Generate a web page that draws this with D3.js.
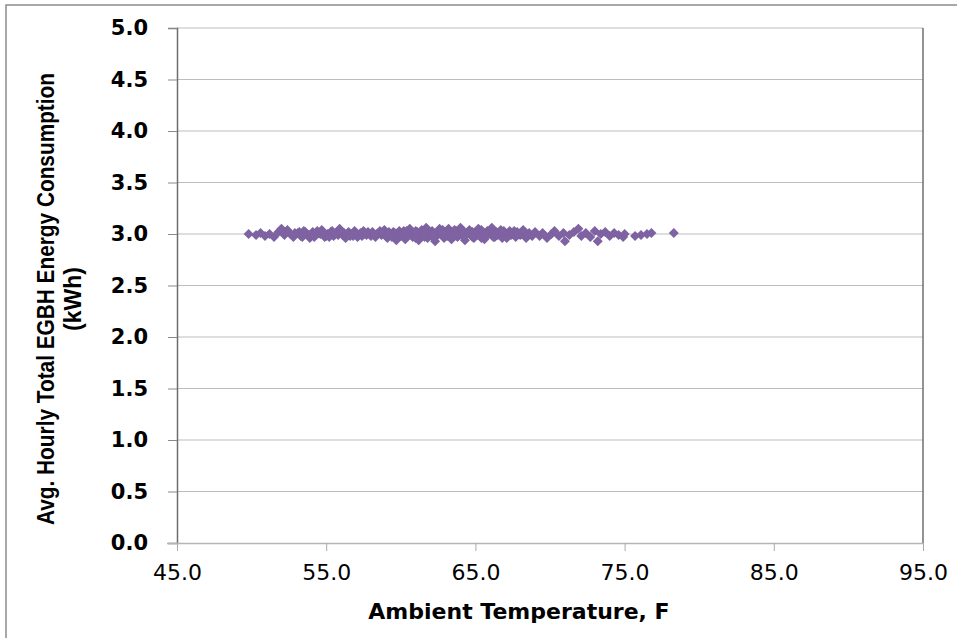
<!DOCTYPE html>
<html lang="en">
<head>
  <meta charset="UTF-8">
  <title>EGBH Energy vs Ambient Temperature</title>
  <script src="https://d3js.org/d3.v7.min.js"></script>
  <style>
    body { margin: 0; background: #fff; }
  </style>
</head>
<body>
  <script>
    // 1. Data
    const temps = [
      49.8, 50.3, 50.6, 50.9, 51.2, 51.5, 51.8, 52.0, 52.2, 52.4, 52.6, 52.8,
      53.1, 53.3, 53.5, 53.7, 53.9, 54.1, 54.3, 54.5, 54.7, 54.9, 55.1, 55.3, 55.5, 55.7, 55.9, 56.1, 56.3, 56.5, 56.7, 56.9,
      53.2, 53.8, 54.4, 55.0, 55.6, 56.2, 56.8,
      52.3, 52.9, 53.4, 53.6, 54.0, 54.2, 54.6, 54.8, 55.2, 55.4, 55.8, 56.0, 56.4, 56.6,
      57.1, 57.3, 57.5, 57.7, 57.9, 58.1, 58.3, 58.5, 58.7, 58.9, 59.1, 59.3, 59.5, 59.7, 59.9,
      57.2, 57.8, 58.4, 59.0, 59.6,
      57.0, 57.4, 57.6, 58.0, 58.2, 58.6, 58.8, 59.2, 59.4, 59.8,
      60.0, 60.2, 60.3, 60.5, 60.6, 60.8, 60.9, 61.1, 61.2, 61.4, 61.5, 61.7, 61.8, 62.0, 62.1, 62.3, 62.4, 62.6, 62.7, 62.9, 63.0,
      60.1, 60.7, 61.3, 61.9, 62.5, 62.8, 63.1,
      60.4, 60.4, 61.0, 61.0, 61.6, 61.6, 62.2, 62.2, 62.9,
      63.2, 63.4, 63.5, 63.7, 63.8, 64.0, 64.1, 64.3, 64.4, 64.6, 64.7, 64.9, 65.0, 65.2, 65.3, 65.5, 65.6, 65.8, 65.9,
      63.3, 63.9, 64.5, 65.1, 65.7,
      63.6, 63.6, 64.2, 64.2, 64.8, 64.8, 65.4, 65.4,
      66.1, 66.2, 66.4, 66.5, 66.7, 66.8, 67.0, 67.2, 67.3, 67.5, 67.7, 67.8, 68.0, 68.2, 68.4, 68.6, 68.8,
      66.0, 66.6, 67.4, 68.1,
      66.3, 66.3, 66.9, 67.1, 67.6, 67.9, 68.3, 68.5,
      69.0, 69.3, 69.5, 69.8, 70.1, 70.3, 70.6, 70.9, 71.0, 71.3, 71.6, 71.9, 72.1, 72.4, 72.7, 73.0, 73.2, 73.4, 73.7, 74.0, 74.3, 74.6, 74.9, 75.0,
      75.7, 76.1, 76.5, 76.8, 78.3
    ];
    const kwh = [
      3.00, 2.99, 3.01, 2.98, 3.00, 2.97, 3.02, 3.05, 2.99, 3.04, 3.00, 2.97,
      3.01, 2.98, 3.03, 3.00, 2.96, 3.02, 2.99, 3.01, 3.04, 2.97, 3.00, 3.02, 2.98, 3.01, 3.05, 2.99, 2.96, 3.02, 3.00, 3.03,
      3.02, 2.99, 3.03, 2.98, 3.00, 3.01, 2.98,
      3.02, 3.01, 2.97, 3.02, 3.00, 2.97, 3.00, 3.02, 2.97, 3.03, 2.99, 3.02, 3.00, 2.98,
      2.97, 3.01, 3.03, 2.99, 3.00, 3.02, 2.97, 3.01, 2.99, 3.04, 2.96, 3.00, 3.02, 2.94, 3.03,
      2.99, 3.02, 3.00, 2.98, 3.01,
      3.01, 2.98, 3.00, 2.98, 3.00, 3.03, 3.01, 3.02, 2.97, 2.99,
      2.98, 3.03, 2.95, 3.01, 3.05, 2.97, 3.00, 3.02, 2.94, 3.04, 2.99, 3.06, 2.96, 3.01, 3.03, 2.93, 2.98, 3.05, 3.00, 2.96, 3.02,
      3.00, 2.99, 3.00, 2.99, 3.02, 3.04, 2.98,
      3.00, 3.03, 2.96, 3.03, 3.01, 2.97, 3.00, 2.96, 3.02,
      3.05, 2.95, 3.00, 3.03, 2.97, 3.06, 3.01, 2.94, 2.99, 3.04, 3.00, 2.96, 3.02, 3.05, 2.98, 3.01, 2.95, 3.03, 3.00,
      3.01, 3.00, 3.02, 2.99, 3.00,
      2.98, 3.04, 3.03, 2.97, 3.02, 2.97, 2.96, 3.04,
      3.06, 2.97, 3.02, 2.99, 3.04, 2.96, 3.01, 2.98, 3.03, 3.00, 2.97, 3.02, 2.99, 3.04, 2.96, 3.01, 2.98,
      3.00, 3.01, 2.99, 3.00,
      3.00, 2.97, 3.03, 2.96, 3.03, 3.00, 3.02, 2.99,
      3.02, 2.98, 3.01, 2.96, 3.00, 3.03, 2.98, 3.01, 2.93, 2.99, 3.02, 3.05, 2.98, 3.01, 2.97, 3.03, 2.93, 3.00, 3.02, 2.98, 3.01, 2.99, 2.97, 3.00,
      2.98, 2.99, 3.00, 3.01, 3.01
    ];
    const xTicks = [45, 55, 65, 75, 85, 95];
    const yTicks = [0, 0.5, 1, 1.5, 2, 2.5, 3, 3.5, 4, 4.5, 5];

    const points = temps.map((t, i) => ({ t: t, v: kwh[i] }));

    // 2. SVG
    const width = 957, height = 638;
    const svg = d3.select("body").append("svg")
      .attr("width", width)
      .attr("height", height);

    // outer chart border
    svg.append("rect")
      .attr("x", 6).attr("y", 5)
      .attr("width", width + 10).attr("height", height + 10)
      .attr("fill", "none")
      .attr("stroke", "#8c8c8c")
      .attr("stroke-width", 1.5);

    // 3. Scales
    const plotL = 177, plotR = 923, plotT = 28, plotB = 543;
    const x = d3.scaleLinear().domain([45, 95]).range([plotL, plotR]);
    const y = d3.scaleLinear().domain([0, 5]).range([plotB, plotT]);

    // 4. Gridlines
    svg.append("g")
      .selectAll("line")
      .data(yTicks.filter(d => d > 0))
      .join("line")
      .attr("x1", plotL).attr("x2", plotR)
      .attr("y1", d => y(d)).attr("y2", d => y(d))
      .attr("stroke", "#bdbdbd")
      .attr("stroke-width", 1);

    // right frame line
    svg.append("line")
      .attr("x1", plotR).attr("x2", plotR)
      .attr("y1", plotT).attr("y2", plotB)
      .attr("stroke", "#5a5a5a")
      .attr("stroke-width", 1.3);

    // 5. Axes
    const yAxis = svg.append("g")
      .attr("transform", `translate(${plotL},0)`)
      .call(d3.axisLeft(y).tickValues(yTicks).tickFormat(d3.format(".1f"))
        .tickSize(9).tickPadding(20));
    yAxis.select(".domain").attr("stroke", "#6e6e6e").attr("stroke-width", 1.5);
    yAxis.selectAll(".tick line").attr("stroke", "#8a8a8a");
    yAxis.selectAll("text")
      .attr("fill", "#000")
      .style("font-family", "DejaVu Sans, Verdana, sans-serif")
      .style("font-weight", "bold")
      .style("font-size", "21px");

    const xAxis = svg.append("g")
      .attr("transform", `translate(0,${plotB})`)
      .call(d3.axisBottom(x).tickValues(xTicks).tickFormat(d3.format(".1f"))
        .tickSize(8).tickPadding(13));
    xAxis.select(".domain").attr("stroke", "#b5b5b5").attr("stroke-width", 1.3)
      .attr("d", `M${plotL - 10},0.5H${plotR}`);
    xAxis.selectAll(".tick line").attr("stroke", "#aaaaaa");
    xAxis.selectAll("text")
      .attr("fill", "#000")
      .style("font-family", "DejaVu Sans, Verdana, sans-serif")
      .style("font-size", "22px");

    // 6. Points (Excel-style diamonds)
    const r = 5;
    svg.append("g")
      .selectAll("path")
      .data(points)
      .join("path")
      .attr("d", `M0,${-r}L${r},0L0,${r}L${-r},0Z`)
      .attr("transform", d => `translate(${x(d.t)},${y(d.v)})`)
      .attr("fill", "#7e62a1");

    // 7. Axis titles
    svg.append("text")
      .attr("x", 519).attr("y", 619)
      .attr("text-anchor", "middle")
      .style("font-family", "DejaVu Sans, Verdana, sans-serif")
      .style("font-weight", "bold")
      .style("font-size", "22px")
      .text("Ambient Temperature, F");

    const yTitle = svg.append("text")
      .attr("transform", "translate(54,299) rotate(-90)")
      .attr("text-anchor", "middle")
      .style("font-family", "Liberation Sans Narrow, Liberation Sans, sans-serif")
      .style("font-weight", "bold")
      .style("font-size", "23px");
    yTitle.append("tspan")
      .attr("x", 0).attr("y", 0)
      .attr("textLength", 452)
      .attr("lengthAdjust", "spacingAndGlyphs")
      .text("Avg. Hourly Total EGBH Energy Consumption");
    yTitle.append("tspan")
      .attr("x", 0).attr("y", 27)
      .text("(kWh)");
  </script>
</body>
</html>
